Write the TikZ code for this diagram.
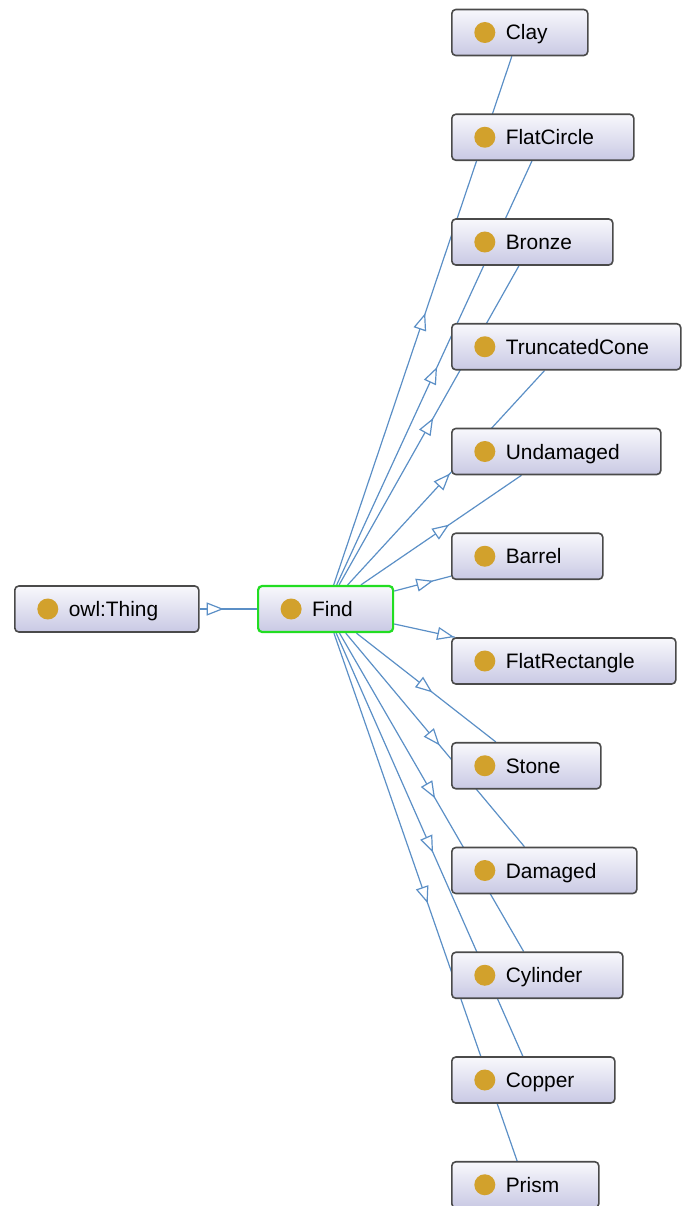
\documentclass[tikz,border=0pt]{standalone}
\usepackage{fontspec}
\setmainfont{Liberation Sans}
\usetikzlibrary{arrows.meta, backgrounds, decorations.markings}
\definecolor{owlblue}{HTML}{5B8FC6}
\definecolor{owlgold}{HTML}{D2A12C}
\definecolor{owlframe}{HTML}{4A4A4A}
\definecolor{owltop}{HTML}{F8F8FC}
\definecolor{owlbottom}{HTML}{C9C9E4}
\definecolor{owlgreen}{HTML}{22DD22}

\begin{document}
\begin{tikzpicture}[
    x=1pt, y=-1pt,
    cls/.style={rectangle, rounded corners=4pt, draw=owlframe, line width=1.6pt,
        top color=owltop, bottom color=owlbottom, anchor=west, minimum height=46pt,
        inner xsep=8pt, text width=#1, align=left, text height=15pt, text depth=0pt,
        font=\fontsize{20.9}{24}\selectfont, execute at begin node={\hspace*{46pt}},
        path picture={\fill[owlgold] ([xshift=33pt]path picture bounding box.west) circle (10.5pt);}},
    edge/.style={draw=owlblue, line width=1.2pt},
    tri/.style={postaction={decorate, decoration={markings,
        mark=at position #1 with {\arrow{Triangle[length=17pt, width=13pt, fill=white]}}}}}
]
\useasboundingbox (0,0) rectangle (681,1206);
% classes
\node[cls=168pt] (thing) at (14,609) {owl:Thing};
\node[cls=119pt, draw=owlgreen, line width=2.2pt] (find) at (257,609) {Find};
\node[cls=120pt] (clay) at (451,32.5) {Clay};
\node[cls=166pt] (flatcircle) at (451,137.25) {FlatCircle};
\node[cls=145pt] (bronze) at (451,242) {Bronze};
\node[cls=213pt] (truncatedcone) at (451,346.75) {TruncatedCone};
\node[cls=193pt] (undamaged) at (451,451.5) {Undamaged};
\node[cls=135pt] (barrel) at (451,556.25) {Barrel};
\node[cls=208pt] (flatrectangle) at (451,661) {FlatRectangle};
\node[cls=133pt] (stone) at (451,765.75) {Stone};
\node[cls=169pt] (damaged) at (451,870.5) {Damaged};
\node[cls=155pt] (cylinder) at (451,975.25) {Cylinder};
\node[cls=147pt] (copper) at (451,1080) {Copper};
\node[cls=131pt] (prism) at (451,1184.75) {Prism};
% subclass links
\begin{scope}[on background layer]
\draw[edge, tri=.42] (thing) -- (find);
\draw[edge, tri=.514] (find) -- (clay);
\draw[edge, tri=.514] (find) -- (flatcircle);
\draw[edge, tri=.523] (find) -- (bronze);
\draw[edge, tri=.52] (find) -- (truncatedcone);
\draw[edge, tri=.55] (find) -- (undamaged);
\draw[edge, tri=.69] (find) -- (barrel);
\draw[edge, tri=.99] (find) -- (flatrectangle);
\draw[edge, tri=.545] (find) -- (stone);
\draw[edge, tri=.526] (find) -- (damaged);
\draw[edge, tri=.519] (find) -- (cylinder);
\draw[edge, tri=.519] (find) -- (copper);
\draw[edge, tri=.512] (find) -- (prism);
\end{scope}
\end{tikzpicture}
\end{document}
